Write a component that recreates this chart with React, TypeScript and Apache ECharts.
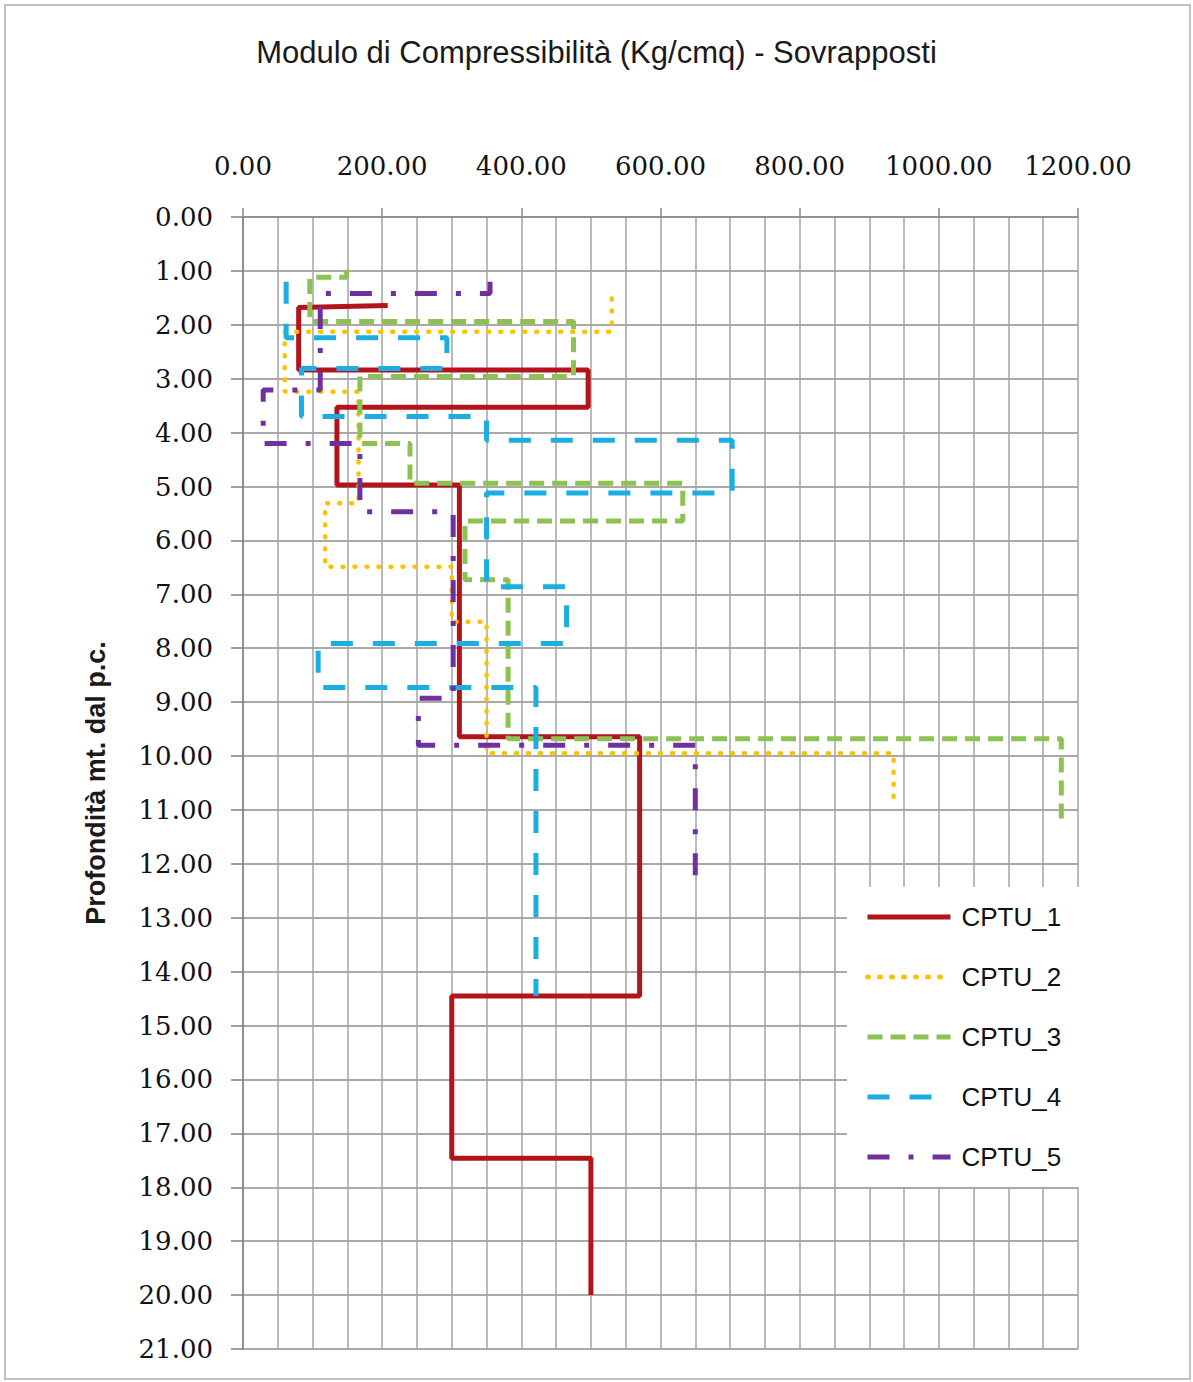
import React, { useEffect, useRef } from "react";
import * as echarts from "echarts";

const TITLE = "Modulo di Compressibilità (Kg/cmq) - Sovrapposti";
const Y_NAME = "Profondità mt. dal p.c.";
const SERIES_NAMES = ["CPTU_1", "CPTU_2", "CPTU_3", "CPTU_4", "CPTU_5"];

// [modulus, depth]
const CPTU_1: number[][] = [
  [208, 1.64], [80, 1.68], [80, 2.84], [496, 2.84], [496, 3.53], [135, 3.53],
  [135, 4.97], [311, 4.97], [311, 9.64], [570, 9.64], [570, 14.45], [300, 14.45],
  [300, 17.46], [500, 17.46], [500, 20.0],
];
const CPTU_2: number[][] = [
  [530, 1.51], [530, 2.13], [60, 2.13], [60, 3.24], [166, 3.24], [166, 5.31],
  [118, 5.31], [118, 6.49], [300, 6.49], [300, 7.51], [350, 7.51], [350, 9.95],
  [935, 9.95], [935, 10.82],
];
const CPTU_3: number[][] = [
  [149, 0.98], [149, 1.12], [96, 1.12], [96, 1.94], [475, 1.94], [475, 2.96],
  [168, 2.96], [168, 4.2], [240, 4.2], [240, 4.94], [632, 4.94], [632, 5.64],
  [319, 5.64], [319, 6.73], [381, 6.73], [381, 9.68], [1176, 9.68], [1176, 11.28],
];
const CPTU_4: number[][] = [
  [62, 1.2], [62, 2.24], [293, 2.24], [293, 2.81], [84, 2.81], [84, 3.7],
  [350, 3.7], [350, 4.14], [703, 4.14], [703, 5.12], [350, 5.12], [350, 6.86],
  [465, 6.86], [465, 7.91], [108, 7.91], [108, 8.73], [421, 8.73], [421, 14.45],
];
const CPTU_5: number[][] = [
  [355, 1.2], [355, 1.42], [111, 1.42], [111, 3.21], [29, 3.21], [29, 4.2],
  [168, 4.2], [168, 5.47], [302, 5.47], [302, 8.93], [252, 8.93], [252, 9.8],
  [650, 9.8], [650, 12.54],
];

const DATA = [CPTU_1, CPTU_2, CPTU_3, CPTU_4, CPTU_5];
const COLORS = ["#B3141B", "#FFC000", "#8DC152", "#1AAEE3", "#7030A0"];
const WIDTHS = [5, 4.5, 5, 5, 5];
const DASHES: any[] = ["solid", [1, 11], [15, 8], [22, 20], [22, 19, 5, 19]];
const CAPS = ["butt", "round", "butt", "butt", "butt"];

export default function App() {
  const ref = useRef<HTMLDivElement>(null);
  useEffect(() => {
    if (!ref.current) return;
    const chart = echarts.init(ref.current, undefined, { renderer: "svg" });
    const series = SERIES_NAMES.map((name, i) => ({
      name,
      type: "line",
      data: DATA[i],
      symbol: "none",
      showSymbol: false,
      lineStyle: { color: COLORS[i], width: WIDTHS[i], type: DASHES[i], cap: CAPS[i] },
      itemStyle: { color: COLORS[i] },
      z: 3 + i,
    }));
    chart.setOption({
      animation: false,
      backgroundColor: "#ffffff",
      title: {
        text: TITLE,
        left: "center",
        top: 32,
        textStyle: {
          fontFamily: "Liberation Sans",
          fontSize: 31,
          fontWeight: "normal",
          color: "#1a1a1a",
        },
      },
      graphic: [
        {
          type: "rect",
          shape: { x: 5, y: 5, width: 1185, height: 1374 },
          style: { fill: "none", stroke: "#c0c0c0", lineWidth: 2 },
          silent: true,
        },
      ],
      legend: {
        orient: "vertical",
        left: 847,
        top: 887,
        padding: [15, 22, 15, 18],
        backgroundColor: "#ffffff",
        itemWidth: 83,
        itemHeight: 30,
        itemGap: 30,
        data: SERIES_NAMES,
        itemStyle: { opacity: 0 },
        lineStyle: { width: 5 },
        textStyle: {
          fontFamily: "Liberation Sans",
          fontSize: 26,
          color: "#111111",
          lineHeight: 30,
          padding: [0, 0, 0, 6],
        },
        z: 20,
      },
      grid: { left: 243, right: 115, top: 217, bottom: 33, containLabel: false },
      xAxis: {
        type: "value",
        position: "top",
        min: 0,
        max: 1200,
        interval: 200,
        axisLine: { show: true, lineStyle: { color: "#8a8a8a", width: 1.5 } },
        axisTick: { show: true, length: 9, lineStyle: { color: "#8a8a8a", width: 1.5 } },
        axisLabel: {
          margin: 38,
          formatter: (v: number) => v.toFixed(2),
          fontFamily: "DejaVu Serif",
          fontSize: 26,
          color: "#111111",
        },
        splitLine: { show: true, lineStyle: { color: "#a3a3a3", width: 1.5 } },
        minorTick: { show: false, splitNumber: 4 },
        minorSplitLine: { show: true, lineStyle: { color: "#a3a3a3", width: 1.5 } },
      },
      yAxis: {
        type: "value",
        inverse: true,
        min: 0,
        max: 21,
        interval: 1,
        name: Y_NAME,
        nameLocation: "middle",
        nameGap: 134,
        nameRotate: 90,
        nameTextStyle: {
          fontFamily: "Liberation Sans",
          fontSize: 27,
          fontWeight: "bold",
          color: "#1a1a1a",
        },
        axisLine: { show: true, lineStyle: { color: "#808080", width: 1.5 } },
        axisTick: { show: true, length: 12, lineStyle: { color: "#808080", width: 1.5 } },
        axisLabel: {
          margin: 30,
          formatter: (v: number) => v.toFixed(2),
          fontFamily: "DejaVu Serif",
          fontSize: 26,
          color: "#111111",
        },
        splitLine: { show: true, lineStyle: { color: "#8c8c8c", width: 1.5 } },
      },
      series,
    });
    return () => chart.dispose();
  }, []);
  return (
    <div
      ref={ref}
      style={{
        position: "absolute",
        left: 0,
        top: 0,
        width: 1193,
        height: 1382,
        background: "#ffffff",
      }}
    />
  );
}
